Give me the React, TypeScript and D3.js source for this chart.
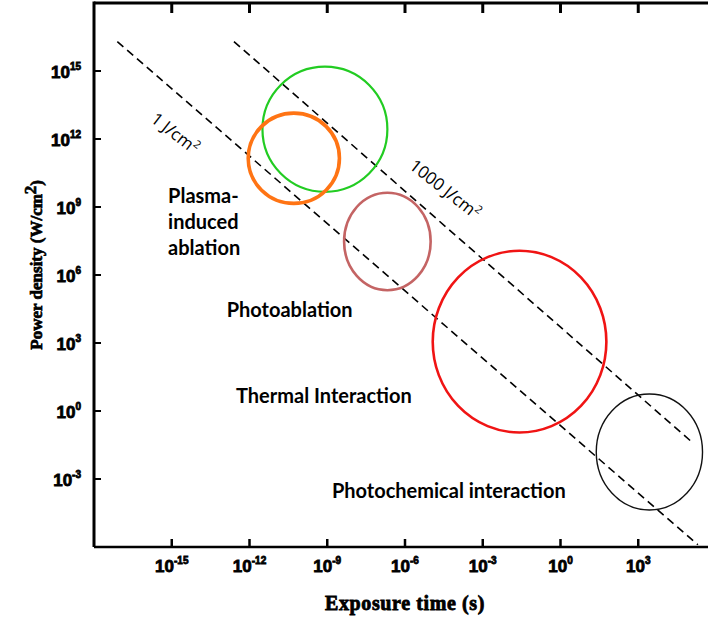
import * as d3 from 'd3'

// exponents (log10)
const xTickExp = [-15, -12, -9, -6, -3, 0, 3]
const yTickExp = [15, 12, 9, 6, 3, 0, -3]

// interaction regions: centre (log t, log P) and half-widths in decades
const regions = [
  { name: 'thermal', t: -1.58, p: 3.06, rt: 3.35, rp: 4.01, color: '#f01414', w: 2.6 },
  { name: 'photochemical', t: 3.43, p: -1.81, rt: 2.05, rp: 2.56, color: '#111111', w: 1.4 },
  { name: 'photoablation', t: -6.68, p: 7.48, rt: 1.67, rp: 2.15, color: '#c46464', w: 2.6 },
  { name: 'disruption', t: -9.09, p: 12.43, rt: 2.41, rp: 2.76, color: '#22cc22', w: 2.2 },
  { name: 'plasma', t: -10.29, p: 11.15, rt: 1.76, rp: 1.99, color: '#ff7414', w: 3.6 },
]

// constant-fluence lines: end points (log t, log P)
const fluenceLines = [
  { label: '1 J/cm', t: [-17.1, 5.3], p: [16.3, -5.9], lt: -14.87, lp: 12.26 },
  { label: '1000 J/cm', t: [-12.6, 5.1], p: [16.3, -1.4], lt: -4.45, lp: 9.79 },
]

const regionLabels = [
  { lines: ['Plasma-', 'induced', 'ablation'], t: -15.14, p: 9.19 },
  { lines: ['Photoablation'], t: -12.88, p: 4.15 },
  { lines: ['Thermal Interaction'], t: -12.52, p: 0.37 },
  { lines: ['Photochemical interaction'], t: -8.82, p: -3.85 },
]

const W = 708
const H = 624
const margin = { left: 94, top: 3, right: 716, bottom: 547 }

const App = () => {
  const x = d3.scaleLinear().domain([-18, 6]).range([margin.left, margin.right])
  const y = d3.scaleLinear().domain([-6, 18]).range([margin.bottom, margin.top])

  const tickFont = { fontFamily: 'Liberation Sans, Arial, sans-serif', fontWeight: 700 }
  const titleFont = { fontFamily: 'Liberation Serif, Times New Roman, serif', fontWeight: 700 }
  const labelFont = 'Lato, Open Sans, sans-serif'

  return (
    <svg width={W} height={H} style={{ position: 'absolute', left: 0, top: 0, background: '#fff' }}>
      {/* frame */}
      <line x1={margin.left} x2={W} y1={margin.top} y2={margin.top} stroke="#000" strokeWidth={3} />
      <line x1={margin.left} x2={margin.left} y1={margin.top - 1.5} y2={margin.bottom} stroke="#000" strokeWidth={3} />
      <line x1={margin.left} x2={W} y1={margin.bottom} y2={margin.bottom} stroke="#000" strokeWidth={2.5} />

      {/* x ticks */}
      {xTickExp.map(e => (
        <g key={'x' + e}>
          <line x1={x(e)} x2={x(e)} y1={margin.bottom} y2={margin.bottom - 8} stroke="#000" strokeWidth={2.5} />
          <line x1={x(e)} x2={x(e)} y1={margin.top} y2={margin.top + 10} stroke="#000" strokeWidth={3} />
          <text x={x(e)} y={margin.bottom + 25} textAnchor="middle" fontSize={17} stroke="#000" strokeWidth={0.8} style={tickFont}>
            10<tspan fontSize={10} dy={-8}>{e}</tspan>
          </text>
        </g>
      ))}

      {/* y ticks */}
      {yTickExp.map(e => (
        <g key={'y' + e}>
          <line x1={margin.left} x2={margin.left + 7} y1={y(e)} y2={y(e)} stroke="#000" strokeWidth={2} />
          <text x={margin.left - 13} y={y(e) + 7} textAnchor="end" fontSize={17} stroke="#000" strokeWidth={0.8} style={tickFont}>
            10<tspan fontSize={10} dy={-8}>{e}</tspan>
          </text>
        </g>
      ))}

      {/* axis titles */}
      <text x={x(-6)} y={610} textAnchor="middle" fontSize={20} letterSpacing={0.6} stroke="#000" strokeWidth={0.8} style={titleFont}>
        Exposure time (s)
      </text>
      <text transform={`translate(42,${y(6.45)}) rotate(-90)`} textAnchor="middle" fontSize={17} stroke="#000" strokeWidth={0.7} style={titleFont}>
        Power density  (W/cm<tspan dy={-6}>2</tspan><tspan dy={6}>)</tspan>
      </text>

      {/* fluence lines */}
      {fluenceLines.map(l => {
        const ang = (Math.atan2(y(l.p[1]) - y(l.p[0]), x(l.t[1]) - x(l.t[0])) * 180) / Math.PI
        return (
          <g key={l.label}>
            <line x1={x(l.t[0])} y1={y(l.p[0])} x2={x(l.t[1])} y2={y(l.p[1])} stroke="#000" strokeWidth={1.6} strokeDasharray="8,5" />
            <text transform={`translate(${x(l.lt)},${y(l.lp)}) rotate(${ang - 3})`} textAnchor="middle" dy={6} fontSize={17} fontFamily="Open Sans, sans-serif" fill="#000">
              {l.label}<tspan fontSize={11} dy={-7}>2</tspan>
            </text>
          </g>
        )
      })}

      {/* regions */}
      {regions.map(r => (
        <ellipse key={r.name} cx={x(r.t)} cy={y(r.p)} rx={x(r.t + r.rt) - x(r.t)} ry={y(r.p) - y(r.p + r.rp)} fill="none" stroke={r.color} strokeWidth={r.w} />
      ))}

      {/* region labels */}
      {regionLabels.map(l => (
        <text key={l.lines[0]} x={x(l.t)} y={y(l.p)} fontSize={20} fontWeight={700} fontFamily={labelFont} fill="#000">
          {l.lines.map((s, i) => (
            <tspan key={s} x={x(l.t)} dy={i === 0 ? 0 : 26}>{s}</tspan>
          ))}
        </text>
      ))}
    </svg>
  )
}

export default App
